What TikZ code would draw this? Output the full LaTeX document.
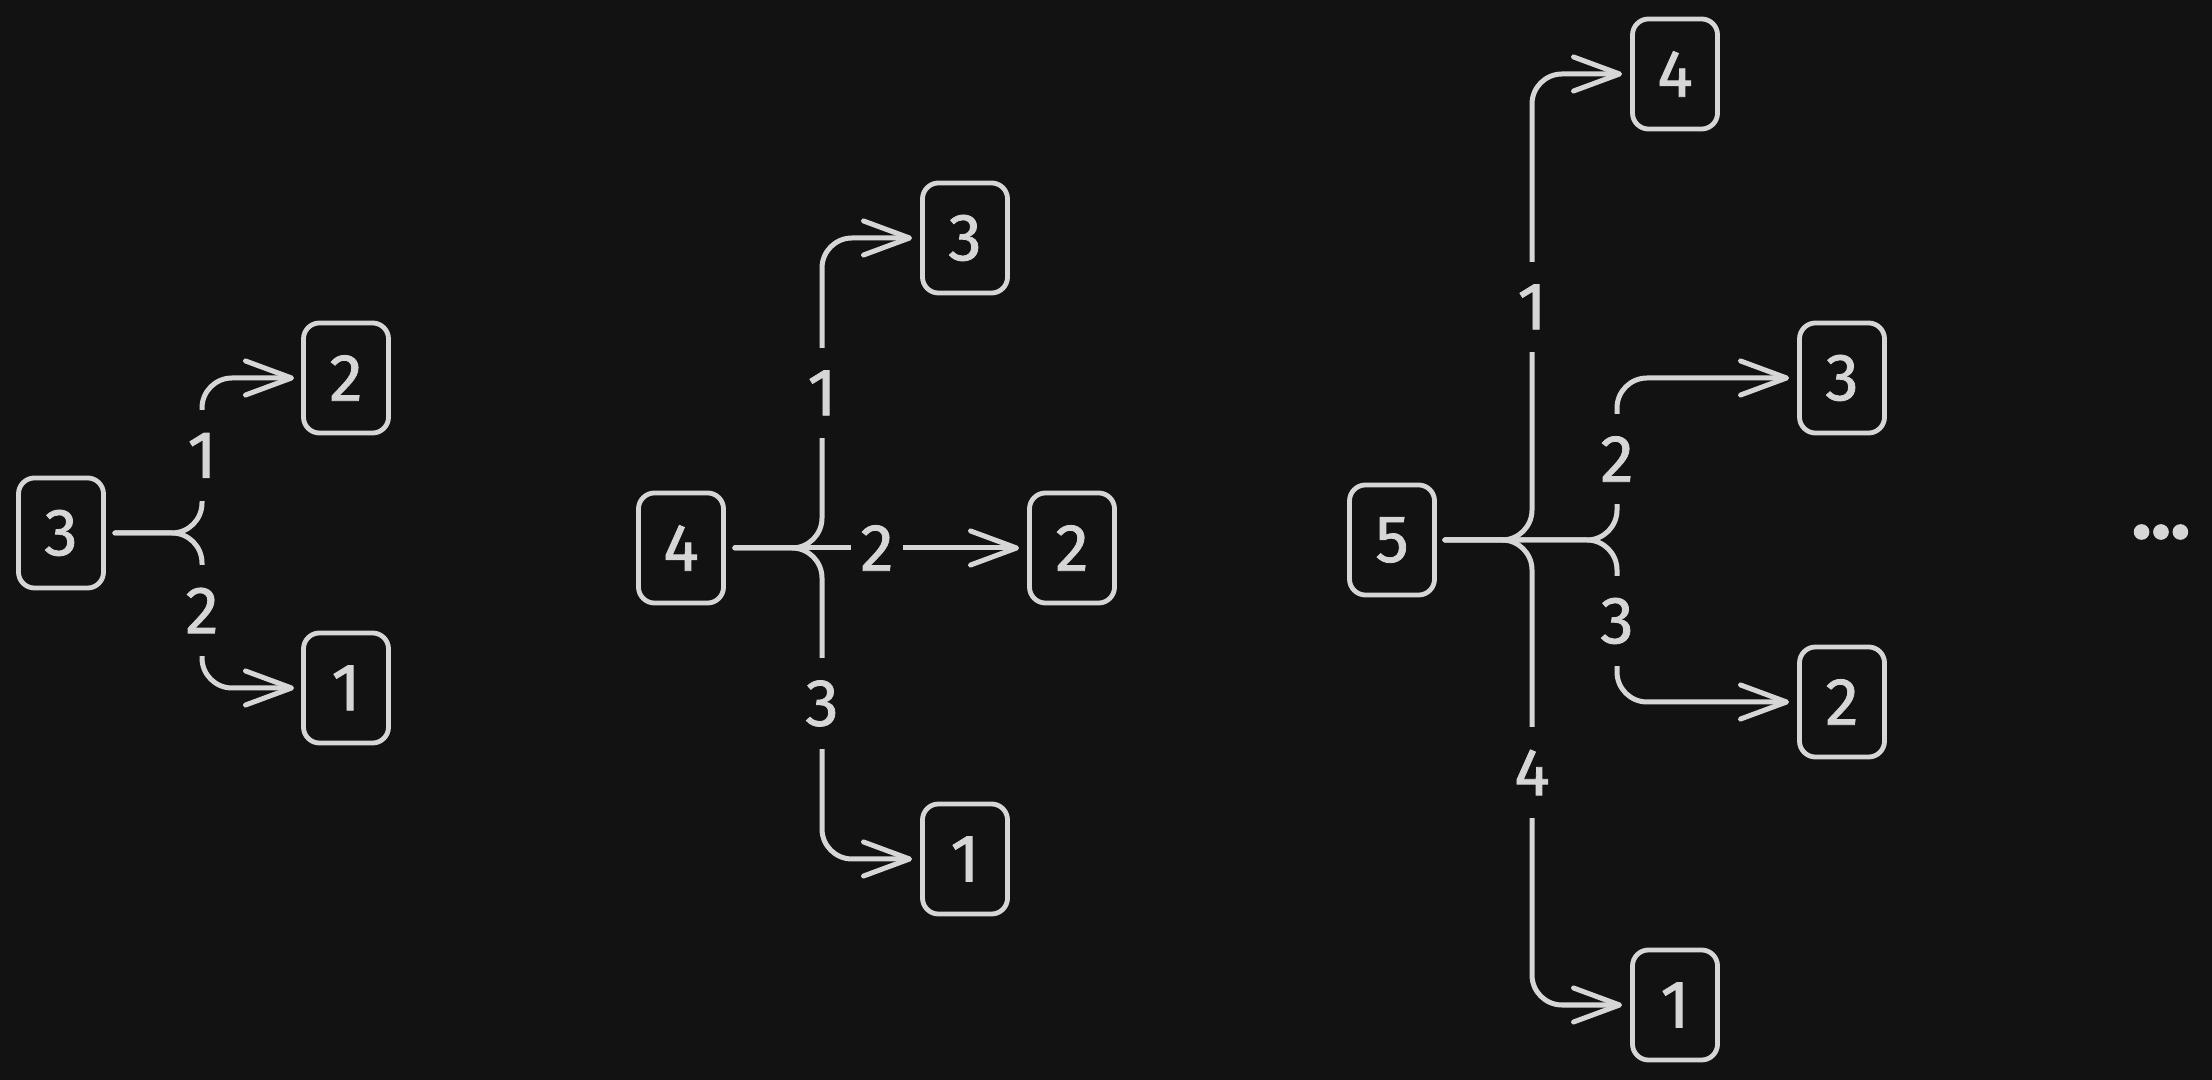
\documentclass[tikz,border=0pt]{standalone}
\usepackage{fontspec}
\setmainfont{Fira Sans}
\newfontfamily\handfont{Fira Sans}[FakeBold=1.2]
\usetikzlibrary{arrows.meta}
\definecolor{bg}{HTML}{121212}
\definecolor{ink}{HTML}{D6D6D6}
\begin{document}
\begin{tikzpicture}[x=0.01cm,y=-0.01cm,
  every node/.style={text=ink, font=\handfont\fontsize{19}{22}\selectfont},
  numbox/.style={draw=ink, line width=0.048cm, rounded corners=0.16cm, minimum width=0.85cm, minimum height=1.1cm, inner sep=0},
  lab/.style={fill=bg, inner sep=0, minimum width=0.52cm, minimum height=0.9cm, rounded corners=0pt},
  conn/.style={draw=ink, line width=0.05cm, rounded corners=0.3cm, line cap=round, -{Straight Barb[length=0.46cm,width=0.34cm,round]}},
]
\fill[bg] (0,0) rectangle (2212,1080);
\useasboundingbox (0,0) rectangle (2212,1080);

% group 1
\node[numbox] (a3) at (61,533) {3};
\node[numbox] (a2) at (346,378) {2};
\node[numbox] (a1) at (346,688) {1};
\coordinate (ja) at (202,533);
\draw[conn] ([xshift=0.09cm]a3.east) -- (ja) |- node[lab,pos=0.25]{1} ([xshift=-0.07cm]a2.west);
\draw[conn] ([xshift=0.09cm]a3.east) -- (ja) |- node[lab,pos=0.25]{2} ([xshift=-0.07cm]a1.west);

% group 2
\node[numbox] (b4) at (681,548) {4};
\node[numbox] (b3) at (965,238) {3};
\node[numbox] (b2) at (1072,548) {2};
\node[numbox] (b1) at (965,859) {1};
\coordinate (jb) at (822,548);
\draw[conn] ([xshift=0.09cm]b4.east) -- (jb) |- node[lab,pos=0.25]{1} ([xshift=-0.08cm]b3.west);
\draw[conn] ([xshift=0.09cm]b4.east) -- (jb) |- node[lab,pos=0.25]{3} ([xshift=-0.08cm]b1.west);
\draw[conn] ([xshift=0.09cm]b4.east) -- node[lab]{2} ([xshift=-0.08cm]b2.west);

% group 3
\node[numbox] (c5) at (1392,540) {5};
\node[numbox] (c4) at (1675,74) {4};
\node[numbox] (c3) at (1842,378) {3};
\node[numbox] (c2) at (1842,702) {2};
\node[numbox] (c1) at (1675,1005) {1};
\coordinate (jc) at (1532,540);
\coordinate (jd) at (1617,540);
\draw[conn] ([xshift=0.08cm]c5.east) -- (jc) |- node[lab,pos=0.25]{1} ([xshift=-0.08cm]c4.west);
\draw[conn] ([xshift=0.08cm]c5.east) -- (jc) |- node[lab,pos=0.25]{4} ([xshift=-0.08cm]c1.west);
\draw[conn] ([xshift=0.08cm]c5.east) -- (jd) |- node[lab,pos=0.25]{2} ([xshift=-0.08cm]c3.west);
\draw[conn] ([xshift=0.08cm]c5.east) -- (jd) |- node[lab,pos=0.25]{3} ([xshift=-0.08cm]c2.west);

% ellipsis
\node (dots) at (2161,532) {\fontsize{23}{25}\selectfont\bfseries ...};
\end{tikzpicture}
\end{document}
